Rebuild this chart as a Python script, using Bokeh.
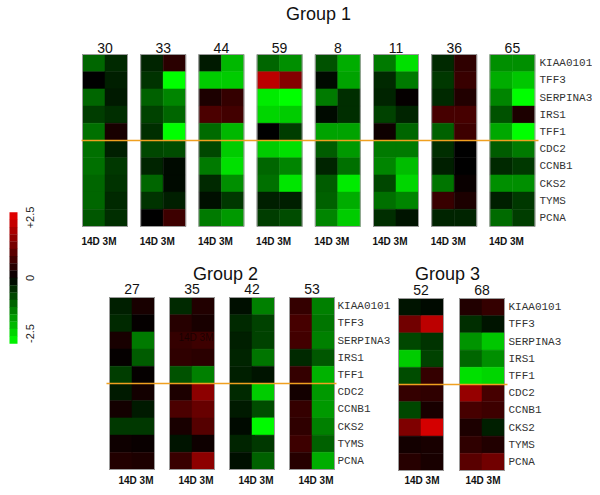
import math
from bokeh.plotting import figure
from bokeh.models import ColumnDataSource, Range1d
from bokeh.core.properties import value
from bokeh.embed import file_html
from bokeh.resources import INLINE

genes = ["KIAA0101", "TFF3", "SERPINA3", "IRS1", "TFF1",
         "CDC2", "CCNB1", "CKS2", "TYMS", "PCNA"]
time_labels = ["14D", "3M"]
group_titles = ["Group 1", "Group 2", "Group 3"]
colorbar_ticks = [2.5, 0.0, -2.5]
colorbar_tick_labels = ["+2.5", "0", "-2.5"]

# Group 1 patients
g1_ids = ["30", "33", "44", "59", "8", "11", "36", "65"]
p30_14d = [-1.0, 0.0, -1.0, -0.6, -1.1, -1.1, -1.1, -1.0, -1.0, -0.85]
p30_3m = [-0.4, -0.3, -0.25, -0.45, 0.25, -0.3, -0.55, -0.5, -0.4, -0.45]
p33_14d = [-0.35, -0.5, -0.95, -0.65, -0.45, -0.7, -0.35, -1.0, -0.5, 0.0]
p33_3m = [0.45, -2.5, -1.3, -1.0, -2.5, -0.75, -0.1, -0.1, -0.3, 0.65]
p44_14d = [-0.25, -2.0, 0.3, 0.8, -1.05, -0.7, -1.2, -0.4, -0.15, -1.2]
p44_3m = [-1.8, -2.0, 0.55, 0.7, -1.8, -2.0, -2.2, -1.4, -0.55, -1.5]
p59_14d = [-1.0, 2.0, -2.3, -2.1, 0.0, -2.0, -1.0, -1.1, -0.3, -0.6]
p59_3m = [-1.4, 1.4, -2.5, -2.0, -0.6, -2.2, -1.3, -2.25, -0.3, -0.75]
p8_14d = [-0.8, -0.1, -1.2, -0.1, -1.6, -0.9, -0.35, -0.9, -0.95, -1.3]
p8_3m = [-1.7, -1.6, -0.45, -0.45, -1.6, -1.5, -1.1, -2.3, -1.7, -2.0]
p11_14d = [-1.2, -0.4, -0.35, -0.65, 0.15, -1.2, -1.3, -0.7, -1.1, -0.45]
p11_3m = [-2.2, -1.2, 0.05, -0.35, -1.0, -1.2, -1.85, -2.1, -1.3, -0.2]
p36_14d = [-0.4, -0.55, -0.4, 0.75, -0.95, -0.45, -0.3, -1.15, 0.6, -0.35]
p36_3m = [0.5, 0.6, 0.35, 0.75, 0.65, 0.0, 0.0, 0.1, 0.3, -0.35]
p65_14d = [-1.4, -1.7, -1.3, -0.8, -1.65, -0.9, -0.4, -1.4, -0.3, -1.05]
p65_3m = [-1.4, -1.95, -2.5, 0.3, -2.5, -1.2, -0.55, -1.4, -0.55, -0.6]

# Group 2 patients
g2_ids = ["27", "35", "42", "53"]
p27_14d = [-0.3, -0.4, 0.25, 0.05, -0.6, -0.25, 0.2, -0.55, 0.15, 0.35]
p27_3m = [0.25, 0.05, -1.2, -0.9, 0.05, 0.2, -0.25, -0.55, 0.1, 0.3]
p35_14d = [-0.4, 0.4, 0.55, 0.5, -0.8, 0.3, 0.8, 0.25, -0.2, 0.6]
p35_3m = [0.35, 0.25, 0.65, 0.45, -1.25, 1.5, 1.1, 0.9, 0.15, 1.5]
p42_14d = [-0.15, -0.4, -0.3, -0.35, -0.3, -0.4, -0.25, -0.1, -0.35, -0.15]
p42_3m = [-1.25, -0.65, -0.65, -1.15, -0.2, -2.0, -0.75, -2.45, -0.55, -0.95]
p53_14d = [0.55, 0.75, 0.7, -0.4, 0.55, 0.2, 0.55, 0.5, 0.65, 0.4]
p53_3m = [-1.25, -1.15, -1.25, -0.85, -1.75, -1.5, -1.5, -1.25, -0.95, -1.7]

# Group 3 patients
g3_ids = ["52", "68"]
p52_14d = [-0.2, 1.2, -0.7, -2.0, -0.75, 0.55, -0.7, 1.35, 0.2, 0.4]
p52_3m = [-0.1, 2.0, -0.5, -0.65, 0.55, 0.5, 0.25, 2.25, 0.25, 0.25]
p68_14d = [0.35, -0.45, -1.45, -1.0, -2.2, 1.6, 0.75, 0.3, 0.5, 0.95]
p68_3m = [0.55, -0.2, -1.95, -1.4, -2.1, 0.75, 0.65, -0.3, 0.35, 1.2]

groups = [
    (g1_ids, [(p30_14d, p30_3m), (p33_14d, p33_3m), (p44_14d, p44_3m), (p59_14d, p59_3m),
              (p8_14d, p8_3m), (p11_14d, p11_3m), (p36_14d, p36_3m), (p65_14d, p65_3m)]),
    (g2_ids, [(p27_14d, p27_3m), (p35_14d, p35_3m), (p42_14d, p42_3m), (p53_14d, p53_3m)]),
    (g3_ids, [(p52_14d, p52_3m), (p68_14d, p68_3m)]),
]

# ---- layout (pixel space of the page) ----
layout = [
    dict(x0=82, step=58.2, top=54, title=(318, 13), num_y=47, lab_off=-1, lab_y=241,
         gene_x=[539], line=(81, 538)),
    dict(x0=109, step=60, top=297, title=(225, 273), num_y=288, lab_off=9, lab_y=480,
         gene_x=[337], line=(106, 336)),
    dict(x0=398, step=61, top=298, title=(447, 273), num_y=289, lab_off=6, lab_y=480,
         gene_x=[508], line=(398, 507)),
]
panel_w = 45
row_h = 17.2
vmax = 2.5


def color_of(v):
    f = max(-1.0, min(1.0, v / vmax))
    if f >= 0:
        return "#%02x%02x%02x" % (int(round(f * 235)), 0, 0)
    return "#%02x%02x%02x" % (0, int(round(-f * 255)), 0)


p = figure(width=592, height=487, x_range=Range1d(0, 592), y_range=Range1d(487, 0),
           output_backend="svg", toolbar_location=None, min_border=0,
           x_axis_type=None, y_axis_type=None)
p.grid.visible = False
p.outline_line_color = None
p.background_fill_color = "white"

cx, cy, cw, ch, cc = [], [], [], [], []
bx, by, bw, bh = [], [], [], []
tx, ty, tt = [], [], []
nx, ny, nt = [], [], []
gx, gy, gt = [], [], []
lx, ly, lt = [], [], []

for gi, (ids, panels) in enumerate(groups):
    L = layout[gi]
    for pi, (pid, cols) in enumerate(zip(ids, panels)):
        px = L["x0"] + pi * L["step"]
        for ci, vals in enumerate(cols):
            for ri, v in enumerate(vals):
                cx.append(px + (ci + 0.5) * panel_w / 2)
                cy.append(L["top"] + (ri + 0.5) * row_h)
                cw.append(panel_w / 2)
                ch.append(row_h)
                cc.append(color_of(v))
        bx.append(px + panel_w / 2)
        by.append(L["top"] + 5 * row_h)
        bw.append(panel_w)
        bh.append(10 * row_h)
        nx.append(px + panel_w / 2)
        ny.append(L["num_y"])
        nt.append(pid)
        lx.append(px + L["lab_off"])
        ly.append(L["lab_y"])
        lt.append(" ".join(time_labels))
    tx.append(L["title"][0])
    ty.append(L["title"][1])
    tt.append(group_titles[gi])
    for gxx in L["gene_x"]:
        for ri, g in enumerate(genes):
            gx.append(gxx)
            gy.append(L["top"] + (ri + 0.5) * row_h)
            gt.append(g)

p.rect(x="x", y="y", width="w", height="h", fill_color="c", line_color="c", line_width=0.5,
       source=ColumnDataSource(dict(x=cx, y=cy, w=cw, h=ch, c=cc)))
p.rect(x=bx, y=by, width=bw, height=bh, fill_color=None, line_color="#9a9a9a", line_width=1)

for gi, L in enumerate(layout):
    ysplit = L["top"] + 5 * row_h
    p.line(x=list(L["line"]), y=[ysplit, ysplit], line_color="#f0a020", line_width=1.6)

p.text(x=tx, y=ty, text=tt, text_font=value("Liberation Sans"), text_font_size="18px",
       text_align="center", text_baseline="middle", text_color="#111111")
p.text(x=nx, y=ny, text=nt, text_font=value("Liberation Sans"), text_font_size="14px",
       text_align="center", text_baseline="middle", text_color="#111111")
p.text(x=lx, y=ly, text=lt, text_font=value("Liberation Sans"), text_font_size="10px",
       text_font_style="bold", text_align="left", text_baseline="middle", text_color="#111111")
p.text(x=gx, y=gy, text=gt, text_font=value("Liberation Mono"), text_font_size="11px",
       text_align="left", text_baseline="middle", text_color="#333333")

# stray label inside patient 35 panel
p35_x = layout[1]["x0"] + 1 * layout[1]["step"]
p.text(x=[p35_x + 9], y=[layout[1]["top"] + 2.35 * row_h], text=[" ".join(time_labels)],
       text_font=value("Liberation Sans"), text_font_size="10px", text_align="left",
       text_baseline="middle", text_color="#000000", text_alpha=0.55)

# colour bar
n_steps = 18
cb_x0, cb_x1, cb_top, cb_bot = 9, 17, 212, 343
step_h = (cb_bot - cb_top) / n_steps
sx, sy, sc = [], [], []
for k in range(n_steps):
    v = vmax - (k + 0.5) * (2 * vmax / n_steps)
    sx.append((cb_x0 + cb_x1) / 2)
    sy.append(cb_top + (k + 0.5) * step_h)
    sc.append(color_of(v))
p.rect(x=sx, y=sy, width=cb_x1 - cb_x0, height=step_h + 0.3, fill_color=sc, line_color=None)

ty_cb = [cb_top + (vmax - t) / (2 * vmax) * (cb_bot - cb_top) for t in colorbar_ticks]
ty_cb = [ty_cb[0] + 5, ty_cb[1], ty_cb[2] - 10]
p.text(x=[29] * 3, y=ty_cb, text=colorbar_tick_labels, angle=math.pi / 2,
       text_font=value("Liberation Sans"), text_font_size="11px", text_align="center",
       text_baseline="middle", text_color="#222222")

open("out.html", "w").write(file_html(p, INLINE))
